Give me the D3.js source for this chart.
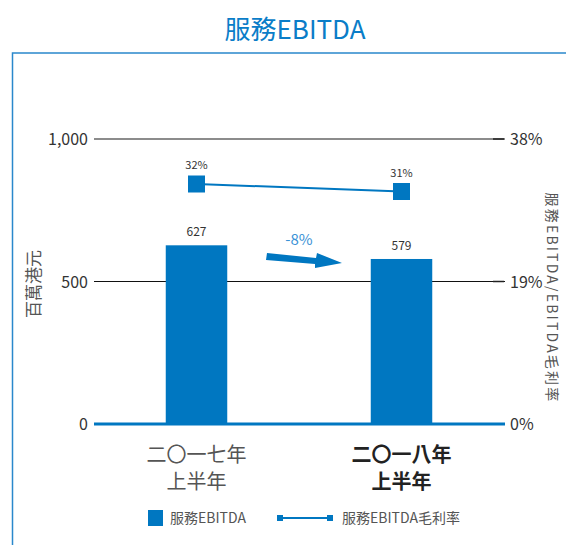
<!DOCTYPE html>
<html>
<head>
<meta charset="utf-8">
<script src="https://cdn.jsdelivr.net/npm/d3@7"></script>
<style>
  body { margin: 0; background: #fff; }
  text { font-family: "Liberation Sans Narrow", "Noto Sans CJK TC", sans-serif; }
</style>
</head>
<body>
<script>
const categories = ["二〇一七年|上半年", "二〇一八年|上半年"];
const ebitda = [627, 579];
const margin = [32, 31];
const leftTicks = [0, 500, 1000];
const rightTicks = [0, 19, 38];
const changeLabel = "-8%";

var w = 566, h = 545;
var blue = "#0077c1";

var svg = d3.select("body").append("svg")
    .attr("width", w)
    .attr("height", h);

// title + frame
svg.append("text")
    .attr("x", 295).attr("y", 39)
    .attr("text-anchor", "middle")
    .style("font-size", "26px")
    .style("fill", "#0a7dc8")
    .text("服務EBITDA");

svg.append("path")
    .attr("d", "M12.5," + h + " V53 H" + w)
    .attr("fill", "none")
    .attr("stroke", "#2a88cc")
    .attr("stroke-width", 1.5);

var x = d3.scaleBand()
    .domain(categories)
    .range([94, 504])
    .paddingInner(0.7)
    .paddingOuter(0.35);

var y = d3.scaleLinear().domain([0, 1000]).range([424, 139]);
var y2 = d3.scaleLinear().domain([0, 38]).range([424, 139]);

// gridlines
svg.selectAll("line.grid")
    .data(leftTicks)
    .enter().append("line")
    .attr("class", "grid")
    .attr("x1", 94).attr("x2", 505)
    .attr("y1", d => y(d)).attr("y2", d => y(d))
    .attr("stroke", d => d === 0 ? blue : (d === 1000 ? "#666" : "#111"))
    .attr("stroke-width", d => d === 0 ? 3 : (d === 1000 ? 1.5 : 1));

// dark right tick ends
svg.selectAll("line.rtick")
    .data(rightTicks.filter(d => d > 0))
    .enter().append("line")
    .attr("class", "rtick")
    .attr("x1", 493).attr("x2", 504)
    .attr("y1", d => y2(d)).attr("y2", d => y2(d))
    .attr("stroke", "#222")
    .attr("stroke-width", 1.5);

// axis tick labels
svg.selectAll("text.lt")
    .data(leftTicks)
    .enter().append("text")
    .attr("class", "lt")
    .attr("x", 88).attr("y", d => y(d) + 6)
    .attr("text-anchor", "end")
    .style("font-size", "16px")
    .style("fill", "#333")
    .text(d => d3.format(",")(d));

svg.selectAll("text.rt")
    .data(rightTicks)
    .enter().append("text")
    .attr("class", "rt")
    .attr("x", 510).attr("y", d => y2(d) + 6)
    .style("font-size", "16px")
    .style("fill", "#333")
    .text(d => d + "%");

// axis titles
svg.append("text")
    .attr("transform", "translate(40,284) rotate(-90)")
    .attr("text-anchor", "middle")
    .style("font-size", "17px")
    .style("fill", "#555")
    .text("百萬港元");

svg.append("text")
    .attr("transform", "translate(547,298) rotate(90)")
    .attr("text-anchor", "middle")
    .style("font-size", "14px")
    .style("letter-spacing", "2.2px")
    .style("fill", "#555")
    .text("服務EBITDA/EBITDA毛利率");

// bars
svg.selectAll("rect.bar")
    .data(ebitda)
    .enter().append("rect")
    .attr("class", "bar")
    .attr("x", (d, i) => x(categories[i]))
    .attr("width", x.bandwidth())
    .attr("y", d => y(d))
    .attr("height", d => y(0) - y(d))
    .attr("fill", blue);

svg.selectAll("text.bv")
    .data(ebitda)
    .enter().append("text")
    .attr("class", "bv")
    .attr("x", (d, i) => x(categories[i]) + x.bandwidth() / 2)
    .attr("y", d => y(d) - 9)
    .attr("text-anchor", "middle")
    .style("font-size", "12px")
    .style("fill", "#333")
    .text(d => d);

// margin line
var cx = (d, i) => x(categories[i]) + x.bandwidth() / 2;
var line = d3.line()
    .x((d, i) => cx(d, i))
    .y(d => y2(d));

svg.append("path")
    .datum(margin)
    .attr("d", line)
    .attr("fill", "none")
    .attr("stroke", blue)
    .attr("stroke-width", 2);

svg.selectAll("rect.mk")
    .data(margin)
    .enter().append("rect")
    .attr("class", "mk")
    .attr("x", (d, i) => cx(d, i) - 8.5)
    .attr("y", d => y2(d) - 8.5)
    .attr("width", 17).attr("height", 17)
    .attr("fill", blue);

svg.selectAll("text.mv")
    .data(margin)
    .enter().append("text")
    .attr("class", "mv")
    .attr("x", (d, i) => cx(d, i))
    .attr("y", d => y2(d) - 15)
    .attr("text-anchor", "middle")
    .style("font-size", "11px")
    .style("fill", "#333")
    .text(d => d + "%");

// change arrow
svg.append("path")
    .attr("d", "M267,253 L316,258 L317,253 L342,263 L315,268 L315,264 L266,260 Z")
    .attr("fill", blue);

svg.append("text")
    .attr("x", 299).attr("y", 245)
    .attr("text-anchor", "middle")
    .style("font-size", "15px")
    .style("fill", "#3a92d6")
    .text(changeLabel);

// category labels
categories.forEach(function(c, i) {
    var t = svg.append("text")
        .attr("text-anchor", "middle")
        .style("font-size", "20px")
        .style("font-weight", i === 1 ? "bold" : "normal")
        .style("fill", i === 1 ? "#222" : "#555");
    c.split("|").forEach(function(s, j) {
        t.append("tspan")
            .attr("x", x(c) + x.bandwidth() / 2)
            .attr("y", 462 + j * 27)
            .text(s);
    });
});

// legend
svg.append("rect")
    .attr("x", 148).attr("y", 510)
    .attr("width", 15).attr("height", 16)
    .attr("fill", blue);
svg.append("text")
    .attr("x", 170).attr("y", 523)
    .style("font-size", "14px")
    .style("fill", "#555")
    .text("服務EBITDA");

svg.append("line")
    .attr("x1", 280).attr("x2", 330)
    .attr("y1", 518).attr("y2", 518)
    .attr("stroke", blue).attr("stroke-width", 2);
svg.selectAll("rect.lm")
    .data([280, 330])
    .enter().append("rect")
    .attr("class", "lm")
    .attr("x", d => d - 3).attr("y", 515)
    .attr("width", 6).attr("height", 6)
    .attr("fill", blue);
svg.append("text")
    .attr("x", 342).attr("y", 523)
    .style("font-size", "14px")
    .style("fill", "#555")
    .text("服務EBITDA毛利率");
</script>
</body>
</html>
